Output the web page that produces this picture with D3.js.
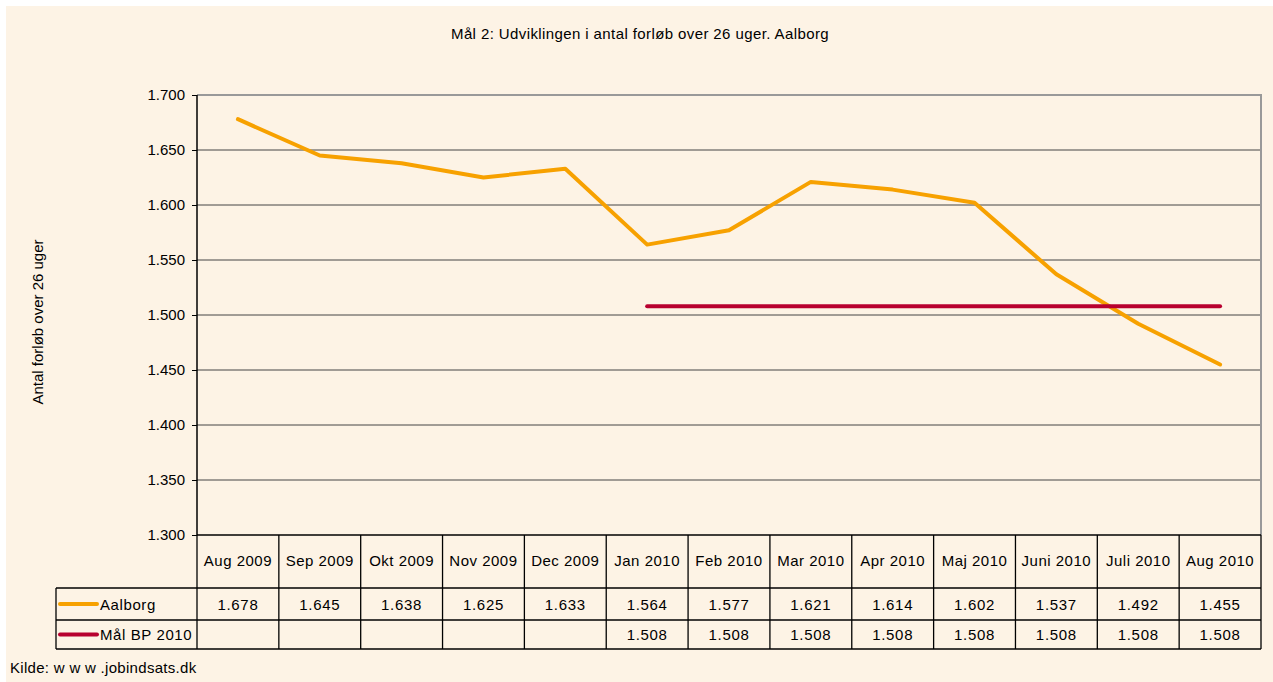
<!DOCTYPE html>
<html>
<head>
<meta charset="utf-8">
<script src="https://cdn.jsdelivr.net/npm/d3@7"></script>
<style>
  body { margin: 0; background: #fff; }
  text { font-family: Arial, "Liberation Sans", sans-serif; fill: #000; }
</style>
</head>
<body>
<div id="chart"></div>
<script>
// maaneder og vaerdier
const months = ["Aug 2009", "Sep 2009", "Okt 2009", "Nov 2009", "Dec 2009", "Jan 2010", "Feb 2010",
  "Mar 2010", "Apr 2010", "Maj 2010", "Juni 2010", "Juli 2010", "Aug 2010"];
const aalborg = [1.678, 1.645, 1.638, 1.625, 1.633, 1.564, 1.577, 1.621, 1.614, 1.602, 1.537, 1.492, 1.455];
const maal = [null, null, null, null, null, 1.508, 1.508, 1.508, 1.508, 1.508, 1.508, 1.508, 1.508];
const yTicks = [1.3, 1.35, 1.4, 1.45, 1.5, 1.55, 1.6, 1.65, 1.7];

const seriesList = [
  { name: "Aalborg", values: aalborg, color: "#f7a100" },
  { name: "Mål BP 2010", values: maal, color: "#b8002f" }
];

const width = 1273, height = 682;
const plotLeft = 197, plotRight = 1261, plotTop = 95, plotBottom = 535;
const tableLeft = 56, headerBottom = 588, row1 = 620, row2 = 649;

const fmt = v => d3.format(".3f")(v);

const svg = d3.select("#chart").append("svg")
  .attr("width", width).attr("height", height);

svg.append("rect").attr("x", 6).attr("y", 6).attr("width", width - 6).attr("height", height - 6)
  .attr("fill", "#fdf3e5");

const x = d3.scaleBand().domain(months).range([plotLeft, plotRight]);
const y = d3.scaleLinear().domain([1.3, 1.7]).range([plotBottom, plotTop]);

// gitterlinjer
svg.append("g").selectAll("line").data(yTicks.slice(1)).enter().append("line")
  .attr("x1", plotLeft).attr("x2", plotRight)
  .attr("y1", d => y(d)).attr("y2", d => y(d))
  .attr("stroke", "#444").attr("stroke-width", 1);

// plot ramme til hoejre og top
svg.append("path")
  .attr("d", `M${plotLeft},${plotTop}H${plotRight}V${plotBottom}`)
  .attr("fill", "none").attr("stroke", "#999").attr("stroke-width", 2);

// y akse
const yAxis = d3.axisLeft(y).tickValues(yTicks).tickSize(5).tickPadding(7)
  .tickFormat(d => d3.format(".3f")(d));
const ga = svg.append("g").attr("transform", `translate(${plotLeft},0)`).call(yAxis);
ga.select(".domain").remove();
ga.selectAll(".tick line").attr("stroke", "#000");
ga.selectAll("text").style("font-size", "15px").style("font-family", "Arial, 'Liberation Sans', sans-serif");
svg.append("line").attr("x1", plotLeft).attr("x2", plotLeft).attr("y1", plotTop).attr("y2", plotBottom)
  .attr("stroke", "#000").attr("stroke-width", 1.5);

// linjer
const line = d3.line()
  .defined(d => d.v != null)
  .x(d => x(d.m) + x.bandwidth() / 2)
  .y(d => y(d.v));

seriesList.forEach(s => {
  svg.append("path")
    .datum(months.map((m, i) => ({ m: m, v: s.values[i] })))
    .attr("d", line)
    .attr("fill", "none")
    .attr("stroke", s.color)
    .attr("stroke-width", 4)
    .attr("stroke-linecap", "round")
    .attr("stroke-linejoin", "round");
});

// datatabel
const tg = svg.append("g").attr("stroke", "#000").attr("stroke-width", 1.3);
tg.append("line").attr("x1", plotLeft).attr("x2", plotRight).attr("y1", plotBottom).attr("y2", plotBottom);
tg.append("line").attr("x1", tableLeft).attr("x2", plotRight).attr("y1", headerBottom).attr("y2", headerBottom);
tg.append("line").attr("x1", tableLeft).attr("x2", plotRight).attr("y1", row1).attr("y2", row1);
tg.append("line").attr("x1", tableLeft).attr("x2", plotRight).attr("y1", row2).attr("y2", row2);
tg.append("line").attr("x1", tableLeft).attr("x2", tableLeft).attr("y1", headerBottom).attr("y2", row2);
tg.selectAll(".col").data(months).enter().append("line")
  .attr("x1", d => x(d) + x.bandwidth()).attr("x2", d => x(d) + x.bandwidth())
  .attr("y1", plotBottom).attr("y2", row2);
tg.append("line").attr("x1", plotLeft).attr("x2", plotLeft).attr("y1", plotBottom).attr("y2", row2);

svg.append("g").selectAll("text").data(months).enter().append("text")
  .attr("x", d => x(d) + x.bandwidth() / 2).attr("y", (plotBottom + headerBottom) / 2 + 4.5)
  .attr("text-anchor", "middle").style("font-size", "15px").style("letter-spacing", "0.5px").text(d => d);

const rowsY = [(headerBottom + row1) / 2 + 5.5, (row1 + row2) / 2 + 5.5];
seriesList.forEach((s, r) => {
  svg.append("g").selectAll("text").data(months).enter().append("text")
    .filter((d, i) => s.values[i] != null)
    .attr("x", d => x(d) + x.bandwidth() / 2).attr("y", rowsY[r])
    .attr("text-anchor", "middle").style("font-size", "15px").style("letter-spacing", "0.7px")
    .text(d => fmt(s.values[months.indexOf(d)]));
  svg.append("line")
    .attr("x1", 60).attr("x2", 97).attr("y1", rowsY[r] - 5.5).attr("y2", rowsY[r] - 5.5)
    .attr("stroke", s.color).attr("stroke-width", 4).attr("stroke-linecap", "round");
  svg.append("text").attr("x", 100).attr("y", rowsY[r])
    .style("font-size", "15px").style("letter-spacing", "0.6px").text(s.name);
});

// titel og tekster
svg.append("text").attr("x", 640).attr("y", 39).attr("text-anchor", "middle")
  .style("font-size", "15px").style("letter-spacing", "0.4px")
  .text("Mål 2: Udviklingen i antal forløb over 26 uger. Aalborg");

svg.append("text").attr("transform", `translate(43,${(plotTop + plotBottom) / 2 + 7}) rotate(-90)`)
  .attr("text-anchor", "middle").style("font-size", "15px").text("Antal forløb over 26 uger");

svg.append("text").attr("x", 10).attr("y", 673).style("font-size", "15px").style("letter-spacing", "0.3px")
  .text("Kilde: w w w .jobindsats.dk");
</script>
</body>
</html>
